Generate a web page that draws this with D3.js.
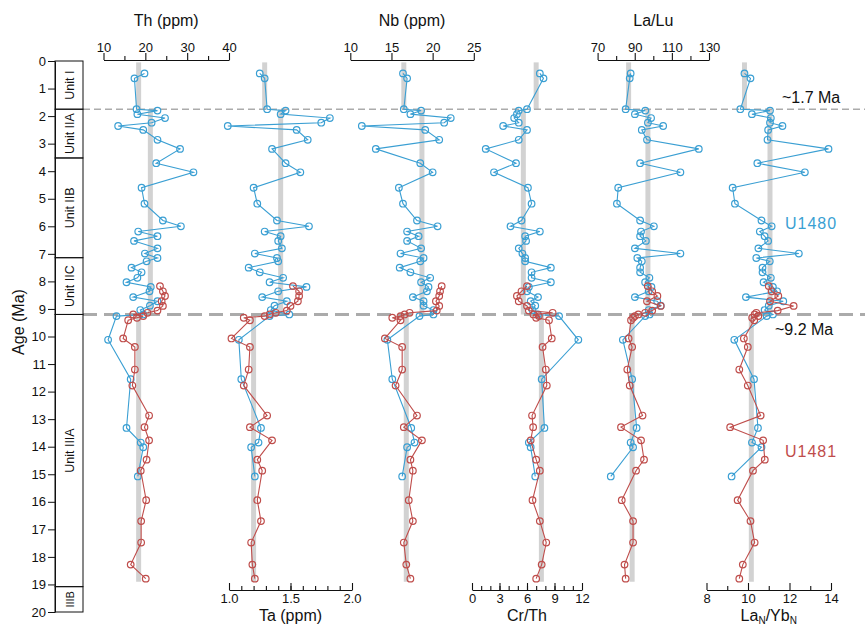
<!DOCTYPE html>
<html><head><meta charset="utf-8">
<script src="https://cdn.jsdelivr.net/npm/d3@7"></script>
<style>body{margin:0;background:#fff} svg{display:block}</style>
</head><body>
<svg id="c" width="865" height="627"></svg>
<script>
// ---------------- DATA ----------------
const ages1480 = [0.45,0.63,1.75,1.80,1.93,2.07,2.24,2.36,2.50,2.86,3.19,3.71,4.04,4.60,5.18,5.79,6.00,6.19,6.36,6.53,6.80,6.99,7.15,7.27,7.50,7.67,7.87,8.03,8.20,8.36,8.57,8.72,8.88,9.04,9.20,9.26,10.12,11.55,13.32,13.85,14.02,15.08];
const th1480 = [19.8,17.4,17.9,22.9,18.1,24.7,21.5,13.5,19.5,22.9,28.3,22.6,31.5,19.1,19.8,24.2,28.5,18.3,22.9,17.3,22.9,19.9,22.9,20.3,16.7,19.1,18.1,15.5,21.3,21.0,17.1,22.9,21.1,18.8,19.5,13.1,11.1,16.5,15.5,18.9,19.5,18.2];
const ta1480 = [1.25,1.29,1.31,1.46,1.42,1.82,1.75,0.99,1.55,1.64,1.35,1.46,1.58,1.20,1.23,1.39,1.65,1.29,1.42,1.40,1.43,1.21,1.39,1.40,1.16,1.25,1.44,1.33,1.63,1.40,1.27,1.47,1.37,1.34,1.49,1.33,1.08,1.10,1.26,1.24,1.18,1.21];
const nb1480 = [16.4,16.9,16.5,18.6,17.3,22.2,21.4,11.4,19.1,20.8,13.1,18.5,20.0,15.9,16.4,18.1,20.6,16.9,18.3,16.9,18.6,16.1,18.9,18.5,16.0,17.3,19.7,18.6,19.5,19.3,17.6,18.9,18.9,20.1,20.1,18.4,14.5,15.1,17.4,17.8,16.9,16.3];
const crth1480 = [7.4,7.8,6.0,5.1,4.9,4.6,5.1,3.4,6.0,5.1,1.5,4.8,2.4,6.1,6.5,5.4,4.2,7.4,5.8,5.9,5.1,5.5,5.8,5.8,8.6,6.5,6.5,8.6,6.2,6.0,7.2,6.4,6.9,6.6,7.2,9.5,11.6,7.6,7.9,6.2,6.4,6.9];
const lalu1480 = [87.8,87.3,85.1,95.7,90.1,98.8,97.1,105.3,93.8,96.6,124.5,92.9,114.6,81.1,80.4,92.9,100.3,93.4,92.9,96.0,90.1,114.6,91.4,93.8,92.9,92.9,97.9,95.6,99.0,97.5,90.1,102.1,104.0,97.5,98.0,95.6,83.6,88.6,91.0,87.8,89.1,77.1];
const layb1480 = [9.83,10.12,9.63,11.06,10.19,11.10,11.06,11.66,10.97,10.94,13.88,10.45,12.74,9.26,9.37,10.65,11.14,10.57,10.80,10.97,10.50,12.45,10.40,11.05,10.70,10.70,11.10,10.75,11.20,11.40,9.90,11.70,11.00,10.80,11.20,10.90,9.34,10.29,10.48,10.19,10.65,9.21];

const ages1481 = [8.17,8.36,8.53,8.72,8.89,9.06,9.14,9.20,9.26,9.32,9.41,10.07,10.38,11.20,11.78,12.87,13.29,13.77,14.47,14.87,15.94,16.70,17.48,18.28,18.79];
const th1481 = [23.5,24.2,24.7,23.9,24.2,22.9,20.5,17.1,19.5,18.0,15.9,14.7,17.5,17.5,16.9,20.9,19.8,20.9,20.3,18.9,20.2,19.0,19.0,16.5,20.1];
const ta1481 = [1.52,1.57,1.57,1.56,1.50,1.47,1.38,1.33,1.29,1.12,1.17,1.02,1.17,1.16,1.12,1.31,1.17,1.35,1.23,1.27,1.23,1.26,1.18,1.19,1.21];
const nb1481 = [21.1,20.9,20.8,20.4,20.8,20.5,17.2,16.6,16.1,15.1,16.1,14.2,16.3,16.3,15.5,18.1,16.5,18.7,17.3,17.6,17.1,17.6,16.5,16.8,17.3];
const crth1481 = [6.0,5.4,4.9,5.1,6.0,6.2,8.8,6.7,7.3,7.0,8.4,8.7,7.7,8.05,8.16,6.55,6.67,6.4,7.0,7.4,6.6,7.4,8.1,7.6,7.0];
const lalu1481 = [97.0,99.4,102.2,96.6,104.0,99.4,95.6,91.9,90.1,89.1,88.0,86.7,88.6,86.0,87.3,94.2,82.6,93.4,95.0,90.7,83.0,89.1,89.1,84.5,85.1];
const layb1481 = [11.0,11.14,11.46,11.06,12.2,11.43,10.4,10.32,10.5,10.2,10.3,9.8,9.99,9.58,9.99,10.61,9.14,10.73,10.81,10.24,9.5,10.12,10.32,9.75,9.58];

// mean bars (top interval, middle interval, lower interval)
const meanSpans = [[0.05,1.75],[1.75,9.2],[9.2,18.9]];
const thMean = [18.4,21.2,18.4];
const taMean = [1.29,1.42,1.20];
const nbMean = [16.5,18.7,16.8];
const crthMean = [7.0,5.6,7.57];
const laluMean = [86.7,97.1,88.6];
const laybMean = [9.83,11.06,10.16];

const unitNames = ["Unit I","Unit IIA","Unit IIB","Unit IIC","Unit IIIA","IIIB"];
const unitTops  = [0,1.75,3.52,7.14,9.2,19.08];
const unitBots  = [1.75,3.52,7.14,9.2,19.08,20];
const ageTicks = d3.range(0,21);
const boundaryAges = [1.75, 9.2];
const boundaryLabels = ["~1.7 Ma","~9.2 Ma"];
const siteNames = ["U1480","U1481"];

// ---------------- DRAW ----------------
const svg = d3.select("#c");
const blue = "#3a9fd3", red = "#bf4d4b";
const sans = "'Liberation Sans',Arial,Helvetica,sans-serif";
const y = d3.scaleLinear().domain([0,20]).range([61,612]);

const panels = [
 {title:"Th (ppm)", pos:"top", domain:[10,40], range:[103.5,229], major:[10,20,30,40], minor:[15,25,35], fmt:d3.format("d"), a:th1480, b:th1481, m:thMean},
 {title:"Ta (ppm)", pos:"bottom", domain:[1,2], range:[229,352], major:[1,1.5,2], minor:d3.range(1.1,2,0.1), fmt:d3.format(".1f"), a:ta1480, b:ta1481, m:taMean},
 {title:"Nb (ppm)", pos:"top", domain:[10,25], range:[350.3,473.8], major:[10,15,20,25], minor:[], fmt:d3.format("d"), a:nb1480, b:nb1481, m:nbMean},
 {title:"Cr/Th", pos:"bottom", domain:[0,12], range:[472,582], major:[0,3,6,9,12], minor:d3.range(1,12,1), fmt:d3.format("d"), a:crth1480, b:crth1481, m:crthMean},
 {title:"La/Lu", pos:"top", domain:[70,130], range:[597.6,709], major:[70,90,110,130], minor:[80,100,120], fmt:d3.format("d"), a:lalu1480, b:lalu1481, m:laluMean},
 {title:"LaYb", pos:"bottom", domain:[8,14], range:[706.5,831], major:[8,10,12,14], minor:[9,11,13], fmt:d3.format("d"), a:layb1480, b:layb1481, m:laybMean}
];

const gBars = svg.append("g"), gDash = svg.append("g"), gData = svg.append("g"), gAxes = svg.append("g");

// strat column + left axis
const left = svg.append("g");
left.append("g").attr("transform","translate(55,0)")
  .call(d3.axisLeft(y).tickValues(ageTicks).tickSize(7).tickSizeOuter(0).tickPadding(2).tickFormat(d3.format("d")))
  .call(g=>{g.selectAll("text").attr("font-family",sans).attr("font-size",13).attr("fill","#111");
            g.selectAll("line,path").attr("stroke","#111");});
unitNames.forEach((n,i)=>{
  left.append("rect").attr("x",55).attr("y",y(unitTops[i])).attr("width",28)
     .attr("height",y(unitBots[i])-y(unitTops[i])).attr("fill","none").attr("stroke","#111").attr("stroke-width",1);
  const cy=(y(unitTops[i])+y(unitBots[i]))/2;
  left.append("text").attr("transform",`translate(73.5,${cy}) rotate(-90)`).attr("text-anchor","middle")
     .attr("font-family",sans).attr("font-size",i===5?11:12.5).attr("fill","#111").text(n);
});
left.append("text").attr("transform","translate(24,322) rotate(-90)").attr("text-anchor","middle")
   .attr("font-family",sans).attr("font-size",16).attr("fill","#111").text("Age (Ma)");

// boundary dashed lines
boundaryAges.forEach((a,i)=>{
  gDash.append("line").attr("x1",83).attr("x2",865).attr("y1",y(a)).attr("y2",y(a))
    .attr("stroke","#ababab").attr("stroke-width",i===0?1.6:3).attr("stroke-dasharray",i===0?"7,4":"14,7");
});
svg.append("text").attr("x",782).attr("y",y(boundaryAges[0])-6).attr("font-family",sans).attr("font-size",16).attr("fill","#111").text(boundaryLabels[0]);
svg.append("text").attr("x",775).attr("y",y(boundaryAges[1])+21).attr("font-family",sans).attr("font-size",16).attr("fill","#111").text(boundaryLabels[1]);
svg.append("text").attr("x",785).attr("y",229).attr("font-family",sans).attr("font-size",16).attr("letter-spacing",1).attr("fill",blue).text(siteNames[0]);
svg.append("text").attr("x",785).attr("y",457).attr("font-family",sans).attr("font-size",16).attr("letter-spacing",1).attr("fill",red).text(siteNames[1]);

panels.forEach(p=>{
  const x = d3.scaleLinear().domain(p.domain).range(p.range);
  // mean bars
  p.m.forEach((v,i)=>{
    gBars.append("line").attr("x1",x(v)).attr("x2",x(v)).attr("y1",y(meanSpans[i][0])).attr("y2",y(meanSpans[i][1]))
      .attr("stroke","#d2d2d2").attr("stroke-width",5);
  });
  // series
  [[ages1480,p.a,blue],[ages1481,p.b,red]].forEach(([ag,vals,col])=>{
    const pts = ag.map((a,i)=>[x(vals[i]),y(a)]);
    gData.append("path").attr("d",d3.line()(pts)).attr("fill","none").attr("stroke",col).attr("stroke-width",1.1);
    gData.append("g").selectAll("circle").data(pts).join("circle")
      .attr("cx",d=>d[0]).attr("cy",d=>d[1]).attr("r",3.3)
      .attr("fill","none").attr("stroke",col).attr("stroke-width",1.2);
  });
  // axes
  const ay = p.pos==="top"?60:590;
  const mk = p.pos==="top"?d3.axisTop:d3.axisBottom;
  const sz = p.pos==="top"?7:-7, szm = p.pos==="top"?4:-4;
  const g = gAxes.append("g").attr("transform",`translate(0,${ay})`);
  g.call(mk(x).tickValues(p.major).tickSize(sz).tickSizeOuter(0).tickPadding(p.pos==="top"?1:4).tickFormat(p.fmt));
  if(p.minor.length){
    gAxes.append("g").attr("transform",`translate(0,${ay})`)
      .call(mk(x).tickValues(p.minor).tickSize(szm).tickSizeOuter(0).tickFormat(""))
      .call(gg=>gg.select(".domain").remove());
  }
  gAxes.selectAll("line,path").attr("stroke","#111").attr("stroke-width",1.1);
  g.selectAll("text").attr("font-family",sans).attr("font-size",13).attr("fill","#111");
  const cx=(p.range[0]+p.range[1])/2;
  const t = gAxes.append("text").attr("x",cx).attr("text-anchor","middle").attr("font-family",sans)
    .attr("font-size",16).attr("fill","#111").attr("y",p.pos==="top"?26:621);
  if(p.title==="LaYb"){
    t.append("tspan").text("La");
    t.append("tspan").attr("font-size",10).attr("dy",3).text("N");
    t.append("tspan").attr("dy",-3).text("/Yb");
    t.append("tspan").attr("font-size",10).attr("dy",3).text("N");
  } else t.text(p.title);
});
</script>
</body></html>
